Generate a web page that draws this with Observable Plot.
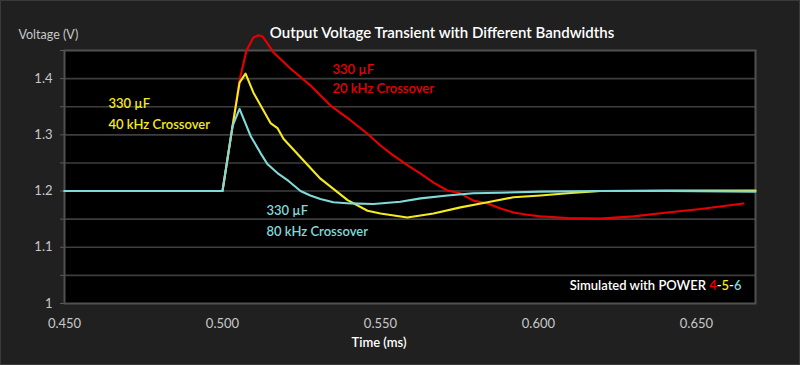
<!DOCTYPE html>
<html><head><meta charset="utf-8">
<script src="https://cdn.jsdelivr.net/npm/d3@7"></script>
<script src="https://cdn.jsdelivr.net/npm/@observablehq/plot@0.6"></script>
<style>
html,body{margin:0;padding:0;background:#202020;}
#chart{position:relative;width:800px;height:365px;overflow:hidden;}
#edge{position:absolute;left:0;top:0;width:798px;height:363px;border:1px solid #3a3a3a;pointer-events:none;}
</style></head><body><div id="chart"><div id="edge"></div></div>
<script>
// Time (ms) and voltage (V)
const t20 = [0.450, 0.500, 0.5032, 0.5054, 0.5076, 0.5098, 0.5114, 0.5127, 0.5161, 0.5215, 0.5278, 0.5342, 0.5405, 0.5459, 0.5500, 0.5532, 0.5585, 0.5627, 0.5668, 0.5712, 0.5753, 0.5794, 0.5839, 0.5880, 0.5921, 0.5965, 0.6006, 0.6092, 0.6196, 0.6301, 0.6408, 0.6513, 0.6649];
const v20 = [1.200, 1.200, 1.316, 1.397, 1.450, 1.473, 1.477, 1.475, 1.447, 1.418, 1.388, 1.352, 1.326, 1.302, 1.281, 1.267, 1.246, 1.231, 1.215, 1.201, 1.196, 1.183, 1.178, 1.169, 1.162, 1.158, 1.155, 1.152, 1.151, 1.155, 1.162, 1.168, 1.178];

const t40 = [0.450, 0.500, 0.5032, 0.5054, 0.5073, 0.5098, 0.5152, 0.5174, 0.5193, 0.5247, 0.5310, 0.5396, 0.5459, 0.5500, 0.5585, 0.5668, 0.5753, 0.5839, 0.5921, 0.6006, 0.6092, 0.6196, 0.6408, 0.6687];
const v40 = [1.200, 1.200, 1.316, 1.393, 1.409, 1.375, 1.321, 1.312, 1.293, 1.260, 1.222, 1.184, 1.165, 1.160, 1.153, 1.160, 1.171, 1.180, 1.189, 1.192, 1.196, 1.200, 1.201, 1.201];

const t80 = [0.450, 0.500, 0.5032, 0.5054, 0.5089, 0.5120, 0.5142, 0.5174, 0.5209, 0.5247, 0.5278, 0.5310, 0.5351, 0.5405, 0.5478, 0.5563, 0.5627, 0.5712, 0.5794, 0.5880, 0.6006, 0.6196, 0.6408, 0.6687];
const v80 = [1.200, 1.200, 1.316, 1.346, 1.298, 1.268, 1.248, 1.232, 1.218, 1.200, 1.192, 1.186, 1.180, 1.178, 1.177, 1.181, 1.187, 1.192, 1.196, 1.197, 1.199, 1.200, 1.200, 1.199];

const seriesNames = ["20 kHz", "40 kHz", "80 kHz"];
const xTicks = [0.45, 0.50, 0.55, 0.60, 0.65];
const yLabels = [1, 1.1, 1.2, 1.3, 1.4];
const yGrid = [1.05, 1.1, 1.15, 1.2, 1.25, 1.3, 1.35, 1.4];
const yTickMarks = [1, 1.05, 1.1, 1.15, 1.2, 1.25, 1.3, 1.35, 1.4, 1.45];

const RED = "#e80000", YEL = "#f5ea1e", CYN = "#7fdada";

function toRows(t, v, s) { return t.map((x, i) => ({t: x, v: v[i], s})); }
const rows = [
  ...toRows(t20, v20, seriesNames[0]),
  ...toRows(t40, v40, seriesNames[1]),
  ...toRows(t80, v80, seriesNames[2])
];

const font = "Lato, 'Open Sans', sans-serif";

const plot = Plot.plot({
  width: 800, height: 365,
  marginLeft: 64, marginRight: 45, marginTop: 50, marginBottom: 62,
  style: {background: "#202020", fontFamily: font, overflow: "visible", display: "block"},
  x: {domain: [0.45, 0.6687], label: null},
  y: {domain: [1, 1.45], label: null},
  color: {domain: seriesNames, range: [RED, YEL, CYN]},
  marks: [
    Plot.frame({fill: "black"}),
    Plot.ruleY(yGrid, {stroke: "#3e3e3e", strokeWidth: 1.6}),
    Plot.axisY(yTickMarks, {tickSize: 4, tickFormat: () => "", color: "#5a5a5a"}),
    Plot.axisY(yLabels, {tickSize: 0, tickPadding: 12, fontSize: 13, color: "#c8c8c8", tickFormat: d => String(d)}),
    Plot.axisX(xTicks, {tickSize: 0, tickPadding: 15, fontSize: 13, color: "#c8c8c8", tickFormat: d3.format(".3f")}),
    Plot.frame({stroke: "#505050", strokeWidth: 2}),
    Plot.line(rows, {x: "t", y: "v", z: "s", stroke: "s", strokeWidth: 2.1, curve: "linear"}),
    // titles
    Plot.text(["Output Voltage Transient with Different Bandwidths"], {frameAnchor: "top", dx: 32, dy: -23, fill: "white", fontSize: 15, fontWeight: 600}),
    Plot.text(["Voltage (V)"], {frameAnchor: "top-left", dx: -46, dy: -20, fill: "#c8c8c8", fontSize: 12.5}),
    Plot.text(["Time (ms)"], {frameAnchor: "bottom", dx: -31, dy: 43, fill: "white", fontSize: 13, fontWeight: 600}),
    // annotations
    Plot.text([{t: 0.5348, v: 1.416, s: "330 µF"}, {t: 0.5348, v: 1.381, s: "20 kHz Crossover"}], {x: "t", y: "v", text: "s", fill: RED, textAnchor: "start", fontSize: 13, fontWeight: 600}),
    Plot.text([{t: 0.4639, v: 1.356, s: "330 µF"}, {t: 0.4639, v: 1.317, s: "40 kHz Crossover"}], {x: "t", y: "v", text: "s", fill: YEL, textAnchor: "start", fontSize: 13, fontWeight: 600}),
    Plot.text([{t: 0.5139, v: 1.165, s: "330 µF"}, {t: 0.5139, v: 1.128, s: "80 kHz Crossover"}], {x: "t", y: "v", text: "s", fill: CYN, textAnchor: "start", fontSize: 13, fontWeight: 600}),
    Plot.text(["Simulated with POWER 4-5-6"], {frameAnchor: "bottom-right", dx: -14, dy: -14, fill: "white", fontSize: 13, fontWeight: 600})
  ]
});

d3.select(plot).selectAll("text").filter(function () { return this.textContent === "Simulated with POWER 4-5-6"; }).each(function () {
  const el = d3.select(this);
  el.text("");
  el.append("tspan").attr("fill", "white").text("Simulated with POWER ");
  el.append("tspan").attr("fill", RED).text("4");
  el.append("tspan").attr("fill", "white").text("-");
  el.append("tspan").attr("fill", YEL).text("5");
  el.append("tspan").attr("fill", "white").text("-");
  el.append("tspan").attr("fill", CYN).text("6");
});

const chart = document.getElementById("chart");
chart.insertBefore(plot, chart.firstChild);
</script></body></html>
